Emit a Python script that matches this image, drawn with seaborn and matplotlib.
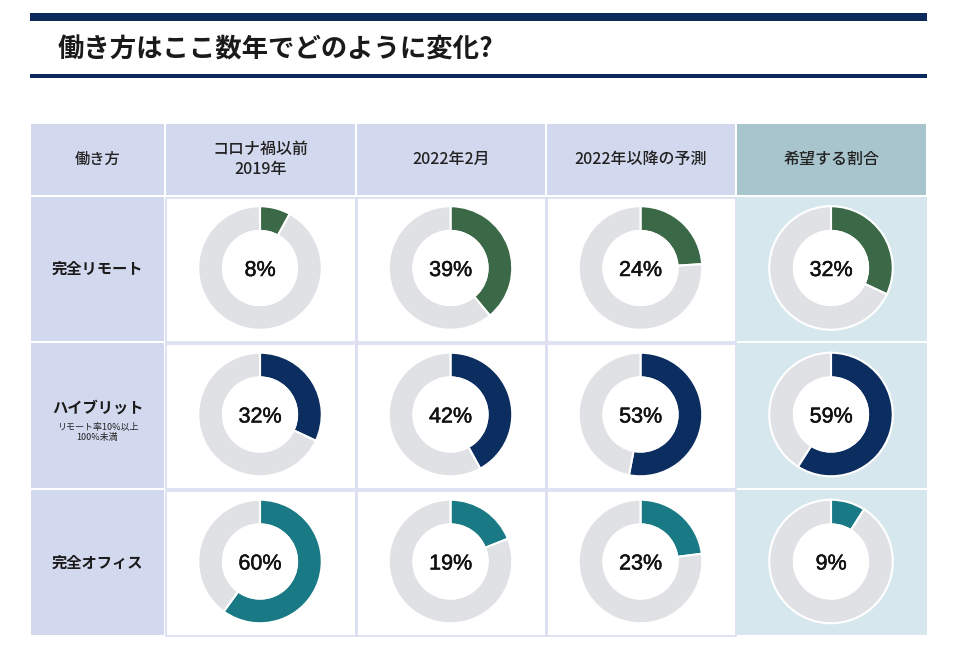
import matplotlib
matplotlib.use("Agg")
import matplotlib.pyplot as plt
from matplotlib.patches import Rectangle, Circle
import matplotlib.patheffects as pe
import seaborn as sns

sns.set_theme(style="white")
plt.rcParams['font.family'] = ['Noto Sans CJK JP', 'DejaVu Sans']

title = "働き方はここ数年でどのように変化?"
corner_label = "働き方"
periods = ["コロナ禍以前\n2019年", "2022年2月", "2022年以降の予測", "希望する割合"]
styles = ["完全リモート", "ハイブリット", "完全オフィス"]
style_notes = ["", "リモート率10%以上\n100%未満", ""]
remote = [8, 39, 24, 32]
hybrid = [32, 42, 53, 59]
office = [60, 19, 23, 9]
values = [remote, hybrid, office]
colors = ["#3b6847", "#0b2d5f", "#197985"]
rest_color = "#dfe1e4"

W, H = 960, 652
fig = plt.figure(figsize=(W / 100, H / 100), dpi=100)
fig.patch.set_facecolor("white")
bg = fig.add_axes([0, 0, 1, 1])
bg.set_xlim(0, W)
bg.set_ylim(H, 0)
bg.axis("off")

navy = "#0b2a5b"
# top bar and underline
bg.add_patch(Rectangle((30, 13), 897, 8, color=navy, lw=0))
bg.add_patch(Rectangle((30, 74), 897, 4, color=navy, lw=0))
bg.text(58, 50, title, fontsize=19, fontweight="bold", color="#1a1a1a",
        va="center", ha="left")

# table geometry
col_x = [30, 165, 356, 546, 736, 927]
row_y = [124, 197, 343, 490, 637]
lav = "#d2d8ee"
hdr_last = "#a8c4cc"
cell_last = "#d6e8ee"
grid = "#d9ddf0"

# header row
for j in range(5):
    x0, x1 = col_x[j], col_x[j + 1]
    fc = hdr_last if j == 4 else lav
    bg.add_patch(Rectangle((x0 + 1, row_y[0]), x1 - x0 - 2, row_y[1] - row_y[0] - 2,
                           facecolor=fc, lw=0))
bg.text((col_x[0] + col_x[1]) / 2, (row_y[0] + row_y[1]) / 2 - 1, corner_label,
        fontsize=11, ha="center", va="center", color="#222222", fontweight="medium")
for j, p in enumerate(periods):
    bg.text((col_x[j + 1] + col_x[j + 2]) / 2, (row_y[0] + row_y[1]) / 2 - 1, p,
            fontsize=11.5, ha="center", va="center", color="#222222",
            linespacing=1.2, fontweight="medium")

# body rows
for i in range(3):
    y0, y1 = row_y[i + 1], row_y[i + 2]
    bg.add_patch(Rectangle((col_x[0] + 1, y0), col_x[1] - col_x[0] - 2, y1 - y0 - 2,
                           facecolor=lav, lw=0))
    for j in range(4):
        x0, x1 = col_x[j + 1], col_x[j + 2]
        if j == 3:
            bg.add_patch(Rectangle((x0, y0), x1 - x0, y1 - y0 - 2,
                                   facecolor=cell_last, lw=0))
        else:
            bg.add_patch(Rectangle((x0 + 0.5, y0 + 0.5), x1 - x0 - 1, y1 - y0 - 2,
                                   facecolor="white", edgecolor=grid, lw=1.2))
    cy = (y0 + y1) / 2 - 1
    lx = (col_x[0] + col_x[1]) / 2
    if style_notes[i]:
        bg.text(lx, cy - 8, styles[i], fontsize=11, fontweight="bold",
                ha="center", va="center", color="#1a1a1a")
        bg.text(lx, cy + 17, style_notes[i], fontsize=6.5, ha="center",
                va="center", color="#222222", linespacing=1.2)
    else:
        bg.text(lx, cy, styles[i], fontsize=11, fontweight="bold",
                ha="center", va="center", color="#1a1a1a")

# donuts
R = 63
for i in range(3):
    y0, y1 = row_y[i + 1], row_y[i + 2]
    cy = (y0 + y1) / 2 - 2
    for j in range(4):
        cx = (col_x[j + 1] + col_x[j + 2]) / 2 - 0.5
        ax = fig.add_axes([(cx - R) / W, 1 - (cy + R) / H, 2 * R / W, 2 * R / H])
        v = values[i][j]
        ax.pie([v, 100 - v], colors=[colors[i], rest_color], startangle=90,
               counterclock=False, radius=1.0,
               wedgeprops=dict(width=0.4, edgecolor="white", linewidth=1.5))
        ax.add_patch(Circle((0, 0), 0.6, facecolor="white", edgecolor="white", lw=1.5))
        ax.set_xlim(-1.02, 1.02)
        ax.set_ylim(-1.02, 1.02)
        ax.set_aspect("equal")
        ax.axis("off")
        ax.text(0, 0, f"{v}%", fontsize=15.5, fontweight="normal", ha="center",
                va="center_baseline", color="#111111", family=["Liberation Sans"],
                path_effects=[pe.withStroke(linewidth=0.35, foreground="#111111")])

fig.savefig("out.png", dpi=100, facecolor="white")
